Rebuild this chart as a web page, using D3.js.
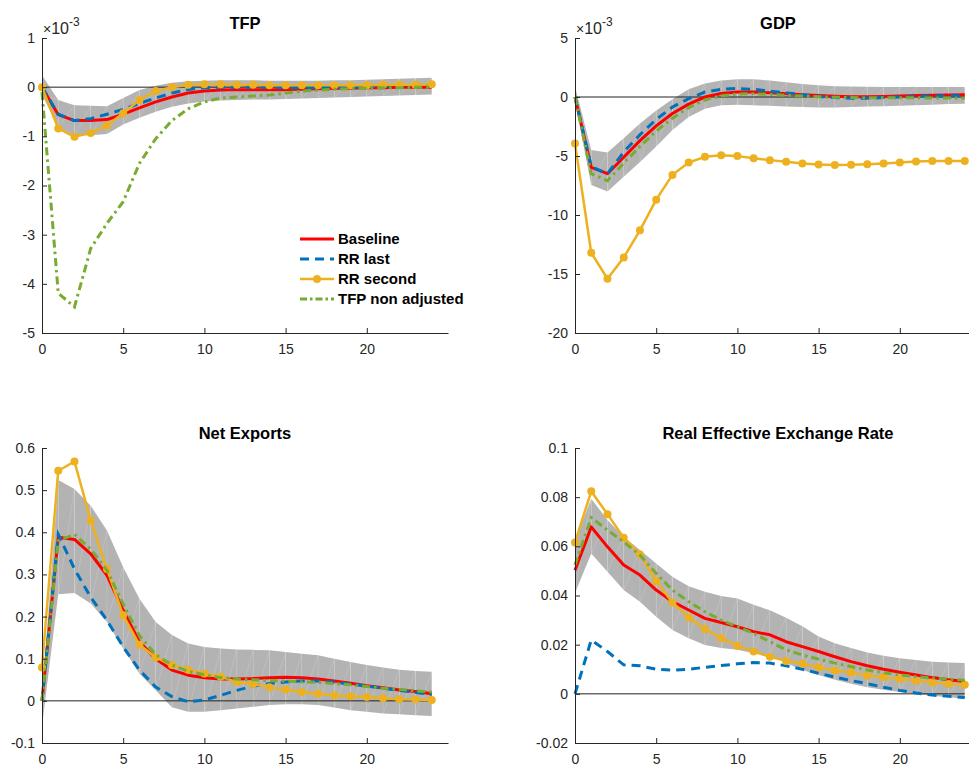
<!DOCTYPE html>
<html>
<head>
<meta charset="utf-8">
<script src="https://cdn.jsdelivr.net/npm/d3@7"></script>
<style>
  body { margin: 0; background: #fff; }
  text { font-family: "Liberation Sans", Arial, Helvetica, sans-serif; }
</style>
</head>
<body>
<svg id="chart" width="969" height="769"></svg>
<script>
// horizons (quarters after shock)
var horizons = [0,1,2,3,4,5,6,7,8,9,10,11,12,13,14,15,16,17,18,19,20,21,22,23,24];

// TFP, values in units of 1e-3
var tfpBase     = [0, -0.56, -0.68, -0.68, -0.66, -0.55, -0.42, -0.30, -0.20, -0.12, -0.08, -0.06, -0.05, -0.05, -0.05, -0.05, -0.04, -0.03, -0.02, -0.02, -0.01, -0.01, 0, 0, 0];
var tfpRRLast   = [0, -0.55, -0.68, -0.64, -0.55, -0.45, -0.33, -0.22, -0.12, -0.05, -0.01, 0, 0, 0, 0, -0.01, -0.01, -0.01, 0, 0, 0.01, 0.02, 0.03, 0.04, 0.05];
var tfpRRSecond = [0, -0.84, -1.01, -0.93, -0.78, -0.53, -0.26, -0.08, 0, 0.05, 0.06, 0.06, 0.05, 0.05, 0.04, 0.04, 0.04, 0.04, 0.04, 0.04, 0.04, 0.05, 0.05, 0.05, 0.06];
var tfpNonAdj   = [-0.1, -4.19, -4.47, -3.28, -2.77, -2.33, -1.55, -1.05, -0.68, -0.44, -0.30, -0.22, -0.20, -0.18, -0.16, -0.12, -0.08, -0.06, -0.04, -0.03, -0.02, -0.01, -0.01, 0, 0];
var tfpHi = [0.24, -0.26, -0.37, -0.38, -0.39, -0.22, -0.06, 0.03, 0.09, 0.12, 0.13, 0.14, 0.14, 0.14, 0.13, 0.13, 0.13, 0.13, 0.14, 0.14, 0.15, 0.16, 0.17, 0.18, 0.19];
var tfpLo = [-0.15, -0.82, -0.99, -0.98, -0.95, -0.76, -0.62, -0.5, -0.4, -0.33, -0.29, -0.27, -0.26, -0.25, -0.25, -0.24, -0.23, -0.22, -0.21, -0.2, -0.19, -0.18, -0.17, -0.16, -0.15];

// GDP, values in units of 1e-3
var gdpBase     = [0, -5.97, -6.5, -5.1, -3.7, -2.45, -1.4, -0.6, 0.0, 0.3, 0.42, 0.42, 0.36, 0.28, 0.2, 0.12, 0.06, 0.03, 0.03, 0.05, 0.08, 0.12, 0.15, 0.18, 0.2];
var gdpRRLast   = [0, -5.9, -6.5, -4.65, -3.2, -1.9, -0.85, -0.14, 0.42, 0.65, 0.72, 0.65, 0.5, 0.35, 0.2, 0.05, -0.05, -0.1, -0.1, -0.05, 0, 0.05, 0.08, 0.1, 0.1];
var gdpRRSecond = [-3.94, -13.2, -15.4, -13.6, -11.3, -8.7, -6.6, -5.55, -5.07, -4.93, -5.01, -5.2, -5.35, -5.49, -5.63, -5.72, -5.77, -5.75, -5.69, -5.63, -5.55, -5.46, -5.43, -5.43, -5.43];
var gdpNonAdj   = [0, -6.5, -7.1, -5.6, -4.2, -2.9, -1.8, -0.9, -0.25, 0.1, 0.25, 0.28, 0.22, 0.15, 0.08, 0.02, -0.02, -0.05, -0.06, -0.06, -0.06, -0.07, -0.08, -0.09, -0.1];
var gdpHi = [0.9, -4.5, -4.7, -3.5, -2.25, -1.15, -0.2, 0.65, 1.15, 1.4, 1.5, 1.5, 1.4, 1.25, 1.1, 1.0, 0.92, 0.88, 0.86, 0.85, 0.85, 0.85, 0.85, 0.85, 0.85];
var gdpLo = [-0.4, -7.45, -8.0, -6.76, -5.5, -4.2, -2.8, -1.7, -1.0, -0.7, -0.65, -0.7, -0.75, -0.8, -0.85, -0.88, -0.88, -0.85, -0.8, -0.78, -0.75, -0.7, -0.65, -0.6, -0.58];

// Net exports
var nxBase     = [0, 0.388, 0.383, 0.349, 0.298, 0.215, 0.14, 0.10, 0.073, 0.061, 0.055, 0.052, 0.052, 0.053, 0.055, 0.056, 0.055, 0.052, 0.047, 0.042, 0.036, 0.031, 0.026, 0.022, 0.017];
var nxRRLast   = [0, 0.395, 0.313, 0.246, 0.191, 0.128, 0.073, 0.033, 0.01, -0.002, 0.002, 0.013, 0.025, 0.035, 0.041, 0.045, 0.047, 0.047, 0.044, 0.04, 0.035, 0.03, 0.025, 0.02, 0.015];
var nxRRSecond = [0.079, 0.546, 0.568, 0.428, 0.313, 0.203, 0.133, 0.103, 0.085, 0.074, 0.065, 0.057, 0.045, 0.04, 0.032, 0.027, 0.021, 0.017, 0.013, 0.011, 0.009, 0.006, 0.004, 0.003, 0.002];
var nxNonAdj   = [0, 0.38, 0.395, 0.36, 0.31, 0.23, 0.155, 0.11, 0.085, 0.07, 0.062, 0.055, 0.052, 0.05, 0.048, 0.047, 0.045, 0.044, 0.041, 0.038, 0.034, 0.03, 0.027, 0.024, 0.021];
var nxHi = [0.01, 0.524, 0.503, 0.463, 0.404, 0.317, 0.242, 0.187, 0.156, 0.136, 0.128, 0.124, 0.122, 0.121, 0.12, 0.116, 0.112, 0.108, 0.1, 0.092, 0.085, 0.079, 0.074, 0.071, 0.069];
var nxLo = [-0.06, 0.253, 0.256, 0.231, 0.187, 0.124, 0.065, 0.025, -0.015, -0.026, -0.026, -0.022, -0.018, -0.014, -0.01, -0.008, -0.008, -0.01, -0.016, -0.022, -0.026, -0.03, -0.032, -0.034, -0.036];

// Real effective exchange rate
var reerBase     = [0.0503, 0.0679, 0.0598, 0.0524, 0.0483, 0.0422, 0.0375, 0.0341, 0.0307, 0.029, 0.0273, 0.0253, 0.024, 0.0212, 0.0192, 0.0172, 0.0151, 0.0131, 0.0114, 0.01, 0.0088, 0.0077, 0.0066, 0.0057, 0.005];
var reerRRLast   = [0, 0.0219, 0.0172, 0.0118, 0.0114, 0.01, 0.0096, 0.01, 0.0108, 0.0115, 0.0122, 0.0127, 0.0125, 0.0114, 0.01, 0.0084, 0.0068, 0.0054, 0.0041, 0.0027, 0.0014, 0.0003, -0.0005, -0.001, -0.0015];
var reerRRSecond = [0.0616, 0.0824, 0.0731, 0.0635, 0.0567, 0.0459, 0.0372, 0.0311, 0.0264, 0.0226, 0.0196, 0.0172, 0.0151, 0.0134, 0.0122, 0.0108, 0.0095, 0.0087, 0.0074, 0.0068, 0.006, 0.0053, 0.0046, 0.004, 0.0037];
var reerNonAdj   = [0.0524, 0.0717, 0.0666, 0.0618, 0.0564, 0.049, 0.0422, 0.0375, 0.0334, 0.03, 0.0273, 0.0246, 0.0212, 0.0179, 0.0158, 0.0141, 0.0125, 0.0111, 0.0097, 0.0086, 0.0077, 0.007, 0.0064, 0.006, 0.0055];
var reerHi = [0.062, 0.0794, 0.0707, 0.0639, 0.0585, 0.053, 0.0476, 0.0438, 0.0415, 0.0398, 0.0388, 0.0362, 0.034, 0.031, 0.0275, 0.0233, 0.0206, 0.0186, 0.0168, 0.0155, 0.0145, 0.0138, 0.0131, 0.0127, 0.0125];
var reerLo = [0.041, 0.0571, 0.0497, 0.0422, 0.0375, 0.0314, 0.026, 0.0226, 0.0199, 0.0186, 0.0179, 0.0165, 0.0158, 0.0125, 0.0097, 0.0077, 0.0057, 0.0041, 0.0027, 0.0017, 0.0007, -0.0001, -0.0008, -0.0014, -0.002];

var xTicks = [0, 5, 10, 15, 20];
var seriesNames = ["Baseline", "RR last", "RR second", "TFP non adjusted"];

var RED = "#ff0000", BLUE = "#0072bd", YELLOW = "#edb120", GREEN = "#77ac30";
var AXIS = "#262626";

var svg = d3.select("#chart");

var panels = [
  { title: "TFP", left: 42, top: 38, bottom: 333, ydom: [-5, 1], yticks: [-5,-4,-3,-2,-1,0,1], exp: true,
    base: tfpBase, last: tfpRRLast, second: tfpRRSecond, nonadj: tfpNonAdj, hi: tfpHi, lo: tfpLo, legend: true },
  { title: "GDP", left: 575, top: 38, bottom: 333, ydom: [-20, 5], yticks: [-20,-15,-10,-5,0,5], exp: true,
    base: gdpBase, last: gdpRRLast, second: gdpRRSecond, nonadj: gdpNonAdj, hi: gdpHi, lo: gdpLo },
  { title: "Net Exports", left: 42, top: 448, bottom: 743, ydom: [-0.1, 0.6], yticks: [-0.1,0,0.1,0.2,0.3,0.4,0.5,0.6],
    base: nxBase, last: nxRRLast, second: nxRRSecond, nonadj: nxNonAdj, hi: nxHi, lo: nxLo },
  { title: "Real Effective Exchange Rate", left: 575, top: 448, bottom: 743, ydom: [-0.02, 0.1], yticks: [-0.02,0,0.02,0.04,0.06,0.08,0.1],
    base: reerBase, last: reerRRLast, second: reerRRSecond, nonadj: reerNonAdj, hi: reerHi, lo: reerLo }
];

function fmt(d) {
  if (d === 0) return "0";
  return String(+d.toFixed(3));
}

function drawPanel(p) {
  var x = d3.scaleLinear().domain([0, 25]).range([p.left, p.left + 406]);
  var y = d3.scaleLinear().domain(p.ydom).range([p.bottom, p.top]);
  var g = svg.append("g");

  // confidence band, drawn as triangles like the original patch
  var band = g.append("g");
  for (var i = 0; i < horizons.length - 1; i++) {
    var a = horizons[i], b = horizons[i + 1];
    band.append("polygon")
      .attr("points", [[x(a), y(p.hi[i])], [x(b), y(p.hi[i + 1])], [x(b), y(p.lo[i + 1])], [x(a), y(p.lo[i])]].join(" "))
      .attr("fill", "#b3b3b3");
  }
  for (var i = 0; i < horizons.length - 1; i++) {
    var a = horizons[i], b = horizons[i + 1];
    band.append("line")
      .attr("x1", x(a)).attr("y1", y(p.lo[i]))
      .attr("x2", x(b)).attr("y2", y(p.hi[i + 1]))
      .attr("stroke", "#ffffff").attr("stroke-opacity", 0.25).attr("stroke-width", 0.6);
    band.append("line")
      .attr("x1", x(b)).attr("y1", y(p.lo[i + 1]))
      .attr("x2", x(b)).attr("y2", y(p.hi[i + 1]))
      .attr("stroke", "#ffffff").attr("stroke-opacity", 0.2).attr("stroke-width", 0.5);
  }

  // zero line
  g.append("line")
    .attr("x1", x(0)).attr("x2", x(24))
    .attr("y1", y(0)).attr("y2", y(0))
    .attr("stroke", "#222").attr("stroke-width", 1);

  var line = d3.line().x(function(d, i) { return x(horizons[i]); }).y(function(d) { return y(d); });

  g.append("path").attr("d", line(p.base)).attr("fill", "none")
    .attr("stroke", RED).attr("stroke-width", 3).attr("stroke-linejoin", "round");
  g.append("path").attr("d", line(p.last)).attr("fill", "none")
    .attr("stroke", BLUE).attr("stroke-width", 3).attr("stroke-dasharray", "9,6");
  g.append("path").attr("d", line(p.second)).attr("fill", "none")
    .attr("stroke", YELLOW).attr("stroke-width", 2.5).attr("stroke-linejoin", "round");
  g.selectAll("circle.mk").data(p.second).enter().append("circle")
    .attr("class", "mk")
    .attr("cx", function(d, i) { return x(horizons[i]); })
    .attr("cy", function(d) { return y(d); })
    .attr("r", 4).attr("fill", YELLOW);
  g.append("path").attr("d", line(p.nonadj)).attr("fill", "none")
    .attr("stroke", GREEN).attr("stroke-width", 3).attr("stroke-dasharray", "8,4,2.5,4");

  // axes
  var yAxis = g.append("g").attr("transform", "translate(" + p.left + ",0)")
    .call(d3.axisLeft(y).tickValues(p.yticks).tickFormat(fmt).tickSizeInner(-5).tickSizeOuter(0).tickPadding(7));
  var xAxis = g.append("g").attr("transform", "translate(0," + p.bottom + ")")
    .call(d3.axisBottom(x).tickValues(xTicks).tickFormat(fmt).tickSizeInner(-5).tickSizeOuter(0).tickPadding(11));
  [yAxis, xAxis].forEach(function(ax) {
    ax.select(".domain").attr("stroke", AXIS);
    ax.selectAll(".tick line").attr("stroke", AXIS);
    ax.selectAll(".tick text").attr("fill", AXIS).style("font-size", "14px")
      .style("font-family", "'Liberation Sans', Arial, sans-serif");
  });

  // title
  g.append("text")
    .attr("x", p.left + 203).attr("y", p.top - 9)
    .attr("text-anchor", "middle")
    .style("font-size", "16.5px").style("font-weight", "bold").attr("fill", "#000")
    .text(p.title);

  // exponent label
  if (p.exp) {
    var t = g.append("text").attr("x", p.left + 1).attr("y", p.top - 4)
      .attr("fill", AXIS).style("font-size", "16px");
    t.append("tspan").text("\u00d7").style("font-size", "14px");
    t.append("tspan").text("10");
    t.append("tspan").attr("dy", -8).style("font-size", "12px").text("-3");
  }

  // legend
  if (p.legend) {
    var colors = [RED, BLUE, YELLOW, GREEN];
    var dashes = [null, "9,6", null, "7,3,2.5,3"];
    var lg = g.append("g");
    seriesNames.forEach(function(name, k) {
      var cy = 239 + k * 20;
      lg.append("line").attr("x1", 300).attr("x2", 334).attr("y1", cy).attr("y2", cy)
        .attr("stroke", colors[k]).attr("stroke-width", k === 2 ? 2.5 : 3)
        .attr("stroke-dasharray", dashes[k]);
      if (k === 2) lg.append("circle").attr("cx", 317).attr("cy", cy).attr("r", 4).attr("fill", YELLOW);
      lg.append("text").attr("x", 338).attr("y", cy + 5)
        .style("font-size", "15px").style("font-weight", "bold").attr("fill", "#000")
        .text(name);
    });
  }
}

panels.forEach(drawPanel);
</script>
</body>
</html>
